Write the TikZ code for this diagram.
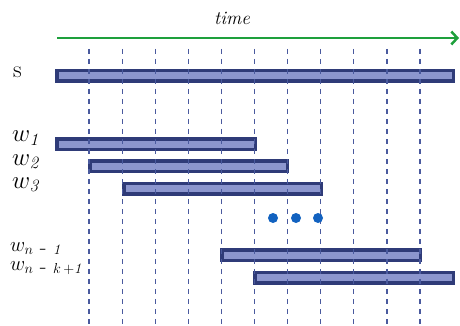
\documentclass[tikz,border=0pt]{standalone}
\usetikzlibrary{arrows.meta}
\definecolor{barborder}{HTML}{2F3B78}
\definecolor{barfill}{HTML}{8C96CE}
\definecolor{dashcol}{HTML}{4A5A9E}
\definecolor{timegreen}{HTML}{1EA03C}
\definecolor{dotblue}{HTML}{1262C0}
\tikzset{
  bar/.style={draw=barborder, fill=barfill, line width=3.5pt, rectangle, inner sep=0pt, minimum height=10.5pt},
  tick/.style={dashcol, line width=1.2pt, dash pattern=on 5pt off 5pt},
  lbl/.style={anchor=base west, inner sep=0pt, font=\fontsize{24}{24}\selectfont},
  lblsmall/.style={anchor=base west, inner sep=0pt, font=\fontsize{22}{22}\selectfont},
  dotst/.style={circle, fill=dotblue, inner sep=0pt, minimum size=10pt},
}
\begin{document}
\begin{tikzpicture}[x=1pt,y=-1pt]
\useasboundingbox (0,0) rectangle (460,326);
% time arrow
\coordinate (tstart) at (57,38);
\coordinate (tend) at (459,38);
\draw[timegreen, line width=2.5pt, -{Straight Barb[length=6pt,width=13pt,line width=2.5pt]}] (tstart) -- (tend);
\node[anchor=base, inner sep=0pt, font=\fontsize{19}{19}\selectfont\itshape] (time) at (232,25) {time};
% bars
\node[bar, minimum width=396.5pt] (sbar) at (255,76) {};
\node[bar, minimum width=198.5pt] (w1bar) at (156,144) {};
\node[bar, minimum width=197.5pt] (w2bar) at (188.5,166) {};
\node[bar, minimum width=197.5pt] (w3bar) at (222.5,188.5) {};
\node[bar, minimum width=198.5pt] (wn1bar) at (321,255) {};
\node[bar, minimum width=198.5pt] (wnkbar) at (354,277.5) {};
% dashed time lines
\foreach \i in {0,...,10} {
  \draw[tick] ({89+33.1*\i},49) -- ({89+33.1*\i},326);
}
% labels
\node[lbl] (s) at (13,78) {s};
\node[lbl] (w1) at (12,142) {$w_{\mathit{1}}$};
\node[lbl] (w2) at (12,165) {$w_{\mathit{2}}$};
\node[lbl] (w3) at (12,188) {$w_{\mathit{3}}$};
\node[lblsmall] (wn1) at (10,251) {$w_{n\mbox{ - }\mathit{1}}$};
\node[lblsmall] (wnk) at (10,270) {$w_{n\mbox{ - }k\,+\mathit{1}}$};
% dots
\node[dotst] (d1) at (273,218) {};
\node[dotst] (d2) at (296,218) {};
\node[dotst] (d3) at (318,218) {};
\end{tikzpicture}
\end{document}
